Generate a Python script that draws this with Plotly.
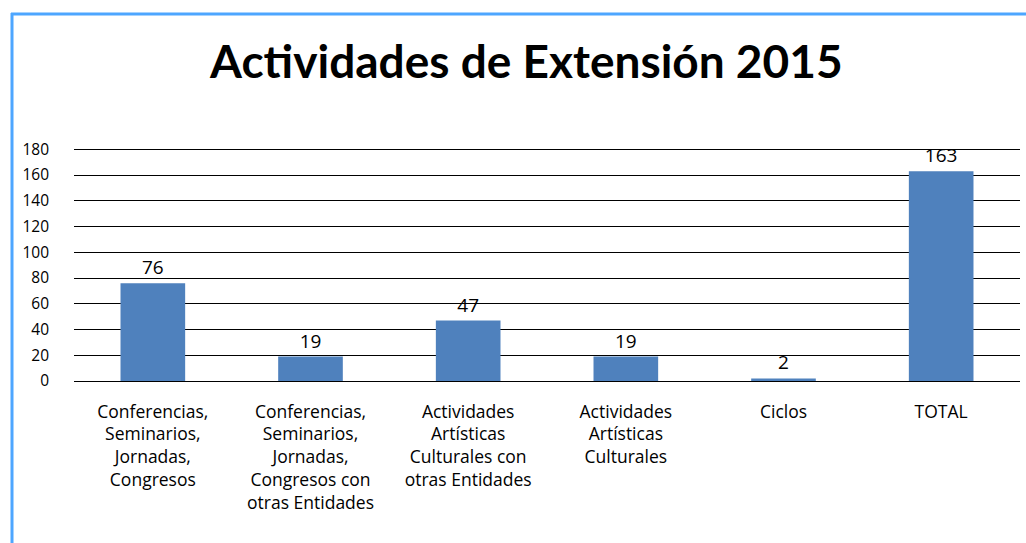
import plotly.graph_objects as go

categories = [
    "Conferencias,<br>Seminarios,<br>Jornadas,<br>Congresos",
    "Conferencias,<br>Seminarios,<br>Jornadas,<br>Congresos con<br>otras Entidades",
    "Actividades<br>Artísticas<br>Culturales con<br>otras Entidades",
    "Actividades<br>Artísticas<br>Culturales",
    "Ciclos",
    "TOTAL",
]
values = [76, 19, 47, 19, 2, 163]
y_ticks = [0, 20, 40, 60, 80, 100, 120, 140, 160, 180]

W, H = 1026, 543
L, R, T, B = 74, 6, 148, 162
pw, ph = W - L - R, H - T - B

def px_x(px):
    return (px - L) / pw

def px_y(py):
    return (H - B - py) / ph

fig = go.Figure()
fig.add_trace(go.Bar(
    x=list(range(len(values))), y=values,
    marker=dict(color="#4f81bd", line=dict(width=0)),
    width=0.41,
    text=[str(v) for v in values], textposition="outside",
    textfont=dict(family="Open Sans, sans-serif", size=19, color="#000"),
    cliponaxis=False,
))

fig.update_layout(
    width=W, height=H,
    margin=dict(l=L, r=R, t=T, b=B, autoexpand=False),
    paper_bgcolor="white", plot_bgcolor="white",
    showlegend=False,
    title=dict(text="Actividades de Extensión 2015", x=0.513, xanchor="center",
               y=1 - 62 / H, yanchor="middle",
               font=dict(family="Lato, sans-serif", size=46, color="#000", weight="bold")),
    xaxis=dict(tickvals=list(range(len(values))), ticktext=categories,
               range=[-0.5, len(values) - 0.5], showgrid=False, zeroline=False,
               showline=False, ticks="", ticklabelstandoff=18, automargin=False,
               tickfont=dict(family="Open Sans, sans-serif", size=17.5, color="#000")),
    yaxis=dict(range=[0, 181], tickvals=y_ticks, showgrid=True, gridcolor="#000",
               gridwidth=1, zeroline=True, zerolinecolor="#000", zerolinewidth=1,
               showline=False, ticks="", ticklabelstandoff=24, automargin=False,
               tickfont=dict(family="Open Sans, sans-serif", size=15.5, color="#000")),
    font=dict(family="Open Sans, sans-serif"),
)

fig.add_shape(type="line", xref="paper", yref="paper",
              x0=px_x(12), x1=px_x(12), y0=px_y(13), y1=px_y(560),
              line=dict(color="#4da6ff", width=3))
fig.add_shape(type="line", xref="paper", yref="paper",
              x0=px_x(11), x1=px_x(1040), y0=px_y(14), y1=px_y(14),
              line=dict(color="#4da6ff", width=3))

fig.write_html("out.html", config={"displayModeBar": False},
               post_script="document.body.style.margin='0';")
